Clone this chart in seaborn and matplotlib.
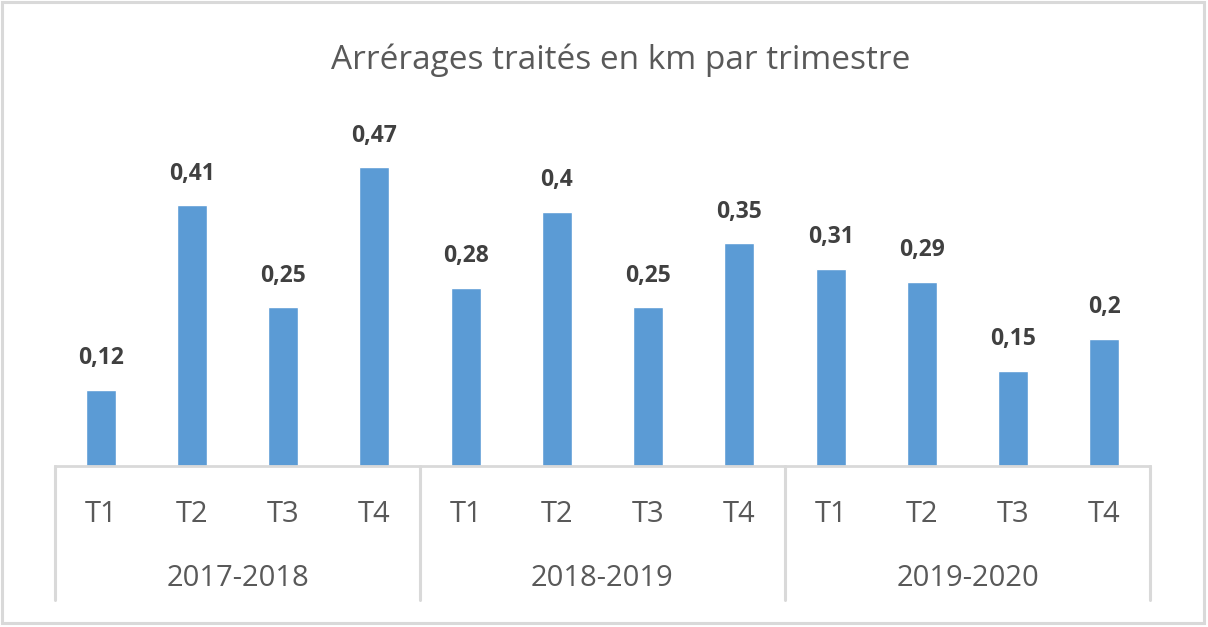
import matplotlib
matplotlib.use("Agg")
import matplotlib.pyplot as plt
import matplotlib.transforms as mtransforms
from matplotlib.patches import Rectangle
import seaborn as sns
import pandas as pd

years = ["2017-2018", "2018-2019", "2019-2020"]
quarters = ["T1", "T2", "T3", "T4"]
values = [0.12, 0.41, 0.25, 0.47, 0.28, 0.40, 0.25, 0.35, 0.31, 0.29, 0.15, 0.20]
value_labels = ["0,12", "0,41", "0,25", "0,47", "0,28", "0,4", "0,25", "0,35", "0,31", "0,29", "0,15", "0,2"]
title = "Arrérages traités en km par trimestre"

sns.set_theme(style="white")
plt.rcParams['font.family'] = ['Open Sans', 'DejaVu Sans']

W, H = 1208, 627
fig = plt.figure(figsize=(W / 100, H / 100), dpi=100)
ax_left, ax_right, ax_bottom, ax_top = 55, 1150, 466, 100
ax = fig.add_axes([ax_left / W, (H - ax_bottom) / H, (ax_right - ax_left) / W, (ax_bottom - ax_top) / H])

df = pd.DataFrame({
    "pos": list(range(len(values))),
    "value": values,
})
sns.barplot(data=df, x="pos", y="value", color="#5B9BD5", width=0.33, saturation=1, ax=ax)
ax.set_xlim(-0.5, len(values) - 0.5)
ymax = (ax_bottom - ax_top) / 636
ax.set_ylim(0, ymax)

for p, (v, lab) in enumerate(zip(values, value_labels)):
    ax.annotate(lab, (p, v), xytext=(0, 14), textcoords="offset points",
                ha="center", va="bottom", fontsize=16.5, fontweight="bold", color="#404040")

for s in ["top", "right", "left"]:
    ax.spines[s].set_visible(False)
ax.spines["bottom"].set_color("#d9d9d9")
ax.spines["bottom"].set_linewidth(2)
ax.set_yticks([])
ax.set_xticks([])
ax.set_xlabel("")
ax.set_ylabel("")

trans = mtransforms.blended_transform_factory(ax.transData, ax.transAxes)
axh = ax_bottom - ax_top
sep_bottom = -(600 - ax_bottom) / axh
for k in range(len(years) + 1):
    xs = k * 4 - 0.5
    ax.plot([xs, xs], [0, sep_bottom], transform=trans, color="#d9d9d9", lw=2.2, clip_on=False)

for gi, yr in enumerate(years):
    for qi, q in enumerate(quarters):
        p = gi * 4 + qi
        ax.text(p, -(514 - ax_bottom) / axh, q, transform=trans, ha="center", va="center",
                fontsize=21, color="#595959")
    ax.text(gi * 4 + 1.5, -(578 - ax_bottom) / axh, yr, transform=trans, ha="center", va="center",
            fontsize=21, color="#595959")

fig.text(621 / W, (H - 60) / H, title, ha="center", va="center", fontsize=24, color="#595959")

fig.patches.append(Rectangle((2 / W, 4 / H), (W - 6) / W, (H - 6) / H, transform=fig.transFigure,
                             fill=False, edgecolor="#d9d9d9", lw=2.2))

fig.savefig("out.png", dpi=100)
